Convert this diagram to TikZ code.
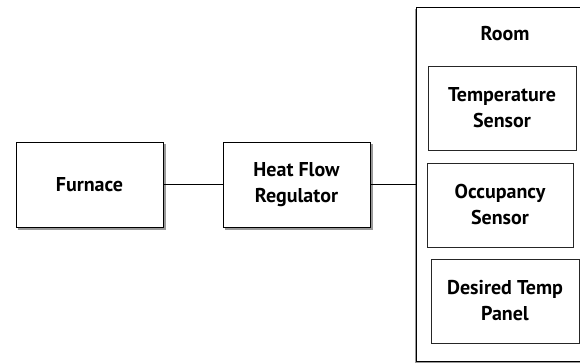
\documentclass[tikz,border=0pt]{standalone}
\usepackage{fontspec}
\setmainfont{PT Sans}
\tikzset{
  outerbox/.style={draw=black, line width=0.9pt, fill=white, rectangle},
  shadowbox/.style={fill=black!40, draw=none},
  innerbox/.style={draw=black!85, line width=0.7pt, fill=white, rectangle},
  lbl/.style={font=\bfseries\fontsize{20}{26}\selectfont, align=center},
  conn/.style={draw=black, line width=0.7pt}
}
\begin{document}
\begin{tikzpicture}[x=1pt, y=-1pt]
\useasboundingbox (0,0) rectangle (580,363);
\clip (0,0) rectangle (580,363);
% shadows
\fill[shadowbox] (17.5,144.5) rectangle (165.5,229.5);
\fill[shadowbox] (224.5,144.5) rectangle (372.5,229.5);
\fill[shadowbox] (415,9.5) rectangle (596,363.5);
\node[outerbox, minimum width=147pt, minimum height=85pt] (furnace) at (89.5,184.5) {};
\node[lbl] (furnacelbl) at (furnace.center) {Furnace};
\node[outerbox, minimum width=147pt, minimum height=85pt] (hfr) at (296.5,184.5) {};
\node[lbl] (hfrlbl) at (hfr.center) {Heat Flow\\Regulator};
\node[outerbox, minimum width=178pt, minimum height=354pt] (room) at (505,184) {};
\node[lbl] (roomlbl) at (505,34) {Room};
\node[innerbox, minimum width=148pt, minimum height=84pt, lbl] (temp) at (502,108) {Temperature\\Sensor};
\node[innerbox, minimum width=146pt, minimum height=84pt, lbl] (occ) at (500,205) {Occupancy\\Sensor};
\node[innerbox, minimum width=148pt, minimum height=84pt, lbl] (desired) at (505,301) {Desired Temp\\Panel};
\draw[conn] (furnace.east) -- (hfr.west);
\draw[conn] (hfr.east) -- (hfr.east -| room.west);
\end{tikzpicture}
\end{document}
